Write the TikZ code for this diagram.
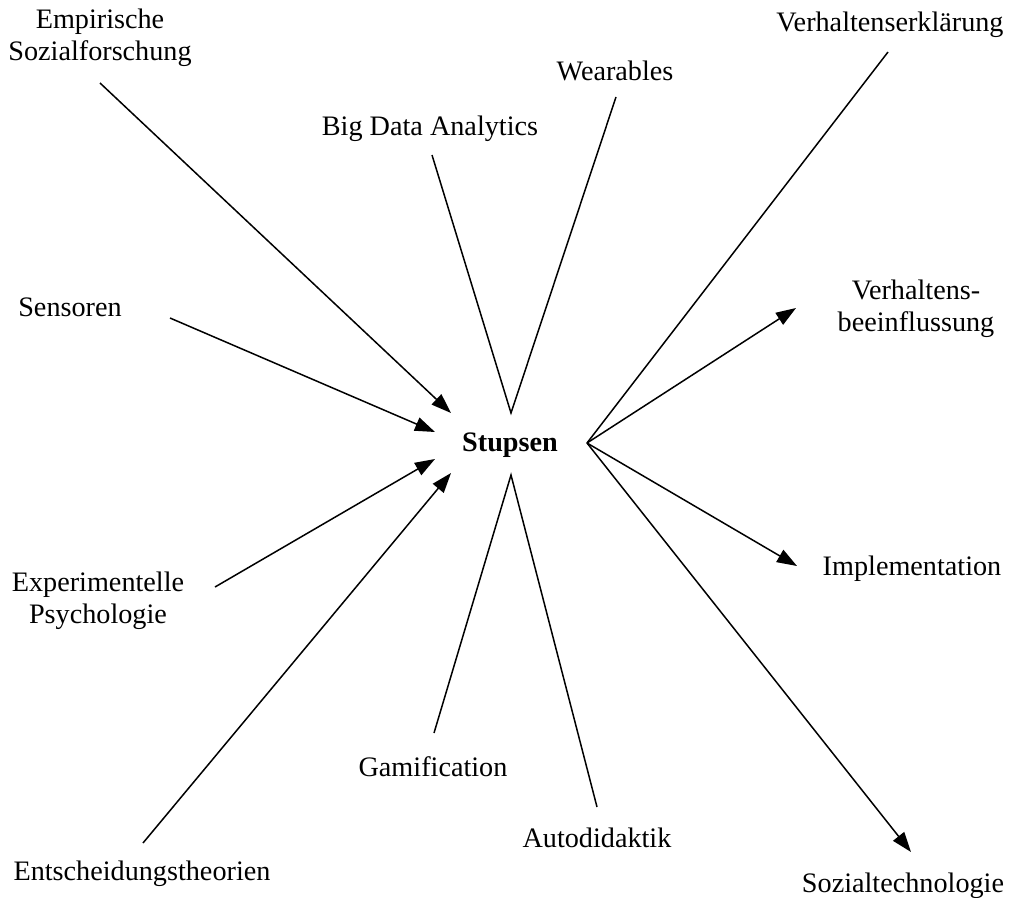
\documentclass[tikz,border=0pt]{standalone}
\usepackage{fontspec}
\setmainfont{Liberation Serif}
\usetikzlibrary{arrows.meta}
\begin{document}
\begin{tikzpicture}[x=1pt,y=-1pt,
  lbl/.style={font=\fontsize{28.2}{32}\selectfont, align=center, inner sep=0pt},
  con/.style={line width=1.5pt},
  arr/.style={con,-{Triangle[length=20pt,width=14pt]}}]
\useasboundingbox (0,0) rectangle (1016,897);
% labels
\node[lbl] (emp) at (100,38) {Empirische\\Sozialforschung};
\node[lbl] (wear) at (615,71) {Wearables};
\node[lbl] (big) at (430,129) {Big Data Analytics};
\node[lbl] (verk) at (890,25) {Verhaltenserklärung};
\node[lbl] (sens) at (70,307) {Sensoren};
\node[lbl] (vbe) at (916,309) {Verhaltens-\\beeinflussung};
\node[lbl,font=\fontsize{28.2}{32}\selectfont\bfseries] (stu) at (510,445) {Stupsen};
\node[lbl] (exp) at (98,601) {Experimentelle\\Psychologie};
\node[lbl] (impl) at (912,569) {Implementation};
\node[lbl] (gam) at (433,767) {Gamification};
\node[lbl] (auto) at (597,838) {Autodidaktik};
\node[lbl] (ent) at (142,874) {Entscheidungstheorien};
\node[lbl] (soz) at (903,886) {Sozialtechnologie};
% connector end points
\coordinate (emp1) at (100,83);
\coordinate (emp2) at (451,413);
\coordinate (sens1) at (170,318);
\coordinate (sens2) at (435,432);
\coordinate (exp1) at (215,587);
\coordinate (exp2) at (435,459);
\coordinate (ent1) at (143,843);
\coordinate (ent2) at (451,473);
\coordinate (big1) at (432,155);
\coordinate (wear1) at (616,97);
\coordinate (top) at (511,413);
\coordinate (bot) at (511,475);
\coordinate (gam1) at (434,733);
\coordinate (auto1) at (597,807);
\coordinate (right) at (587,443);
\coordinate (verk1) at (888,52);
\coordinate (vbe2) at (796,308);
\coordinate (impl2) at (797,566);
\coordinate (soz2) at (911,852);
% connectors
\draw[arr] (emp1) -- (emp2);
\draw[arr] (sens1) -- (sens2);
\draw[arr] (exp1) -- (exp2);
\draw[arr] (ent1) -- (ent2);
\draw[con] (big1) -- (top) -- (wear1);
\draw[con] (gam1) -- (bot) -- (auto1);
\draw[con] (verk1) -- (right);
\draw[arr] (right) -- (vbe2);
\draw[arr] (right) -- (impl2);
\draw[arr] (right) -- (soz2);
\end{tikzpicture}
\end{document}
